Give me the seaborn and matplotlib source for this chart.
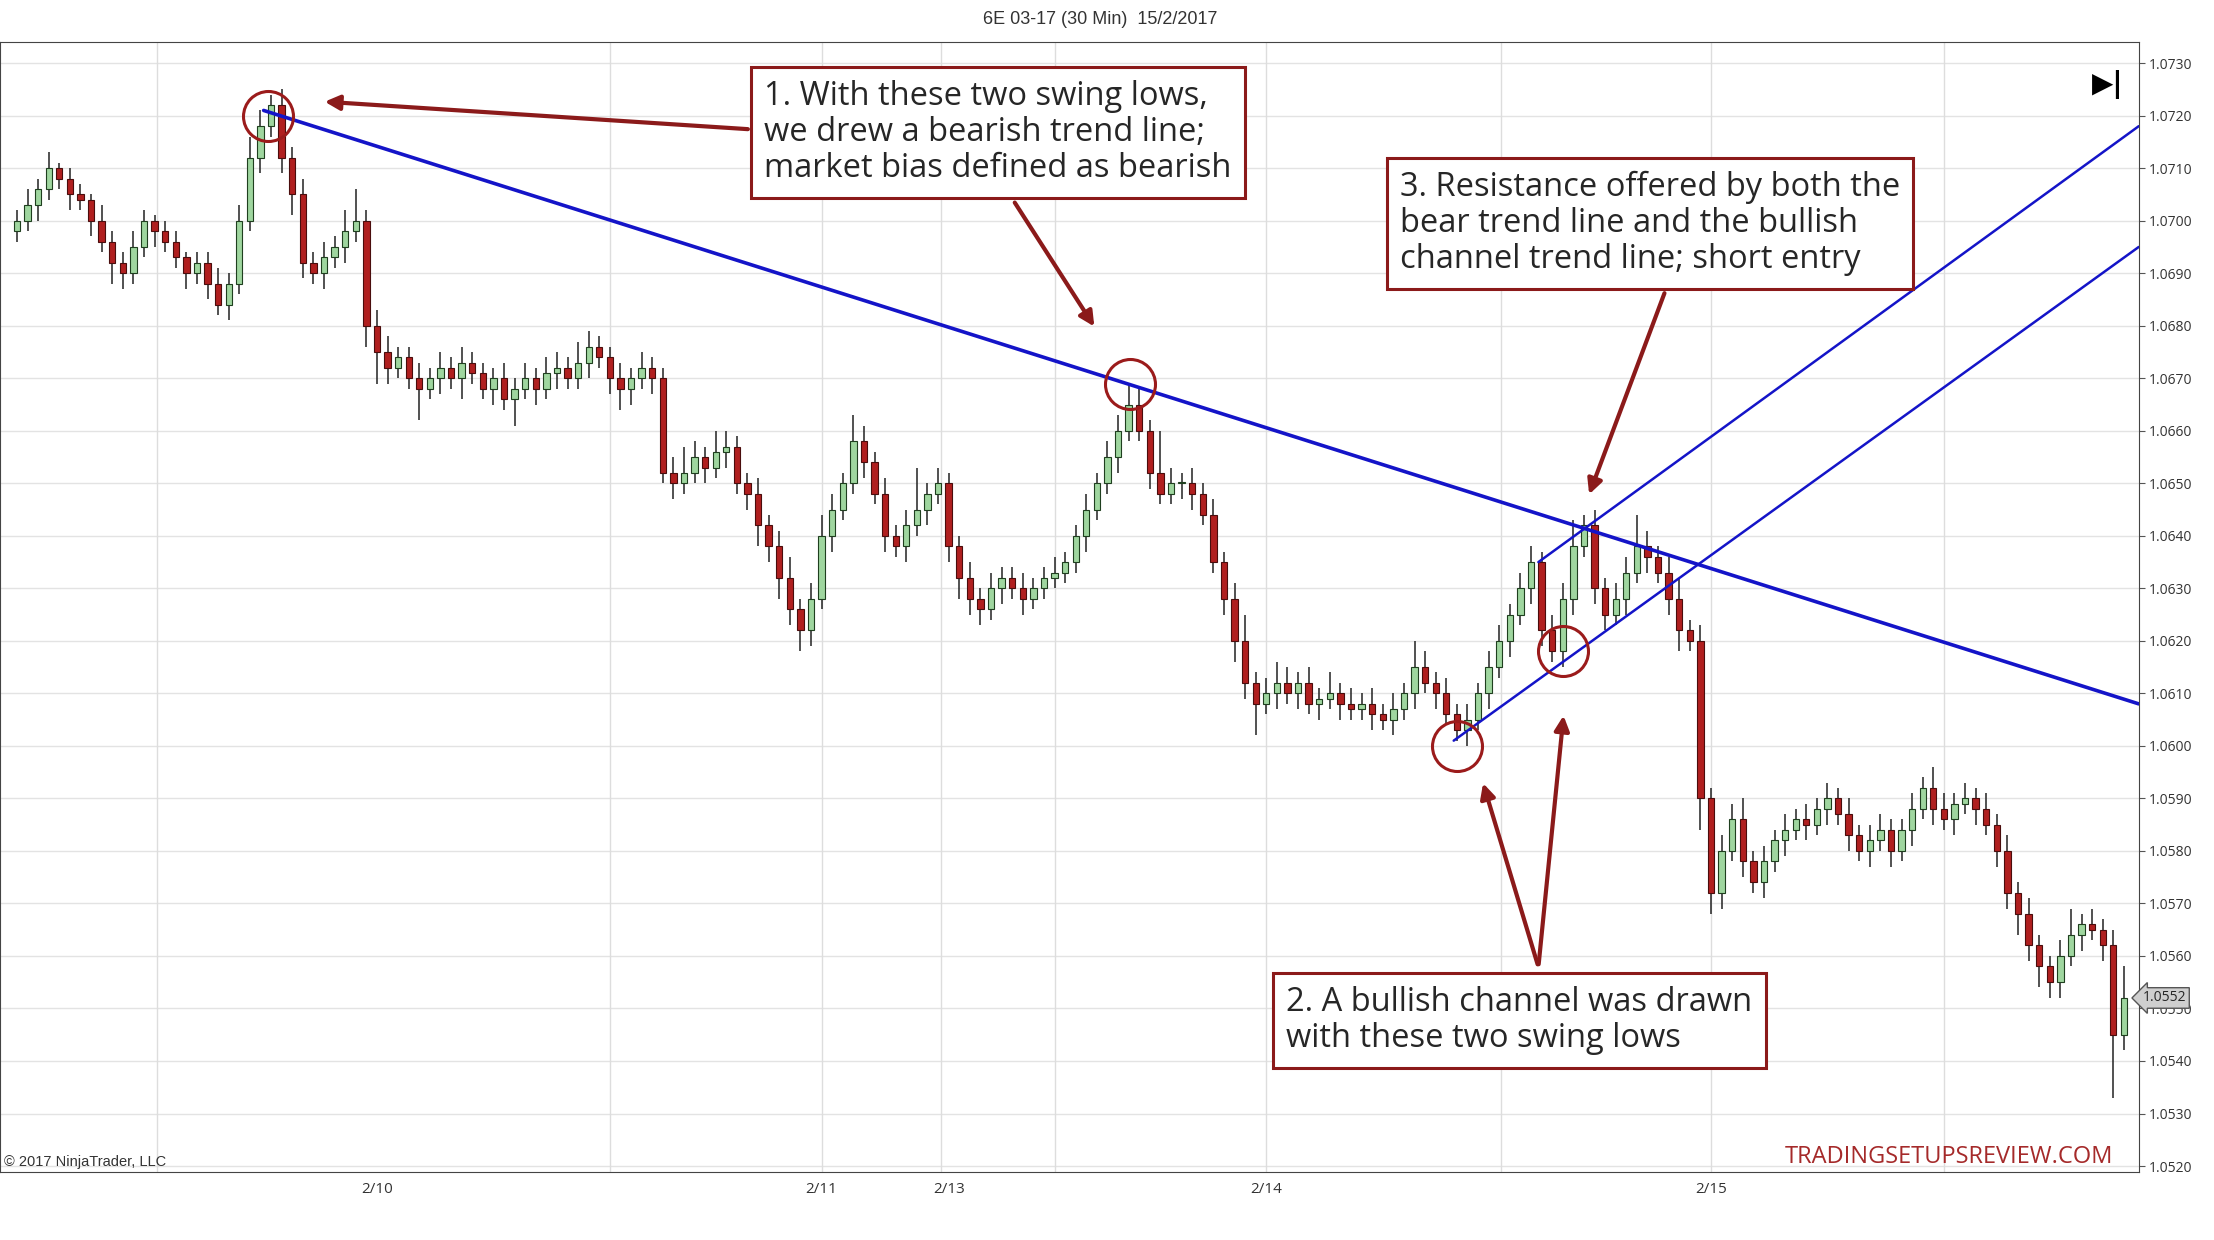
import numpy as np
import matplotlib.pyplot as plt
import seaborn as sns

# closes in pips above 1.0500, one per 30-min bar (open = previous close)
closes = [200, 203, 206, 210, 208, 205, 204, 200, 196, 192,
          190, 195, 200, 198, 196, 193, 190, 192, 188, 184,
          188, 200, 212, 218, 222, 212, 205, 192, 190, 193,
          195, 198, 200, 180, 175, 172, 174, 170, 168, 170,
          172, 170, 173, 171, 168, 170, 166, 168, 170, 168,
          171, 172, 170, 173, 176, 174, 170, 168, 170, 172,
          170, 152, 150, 152, 155, 153, 156, 157, 150, 148,
          142, 138, 132, 126, 122, 128, 140, 145, 150, 158,
          154, 148, 140, 138, 142, 145, 148, 150, 138, 132,
          128, 126, 130, 132, 130, 128, 130, 132, 133, 135,
          140, 145, 150, 155, 160, 165, 160, 152, 148, 150,
          150, 148, 144, 135, 128, 120, 112, 108, 110, 112,
          110, 112, 108, 109, 110, 108, 107, 108, 106, 105,
          107, 110, 115, 112, 110, 106, 103, 105, 110, 115,
          120, 125, 130, 135, 122, 118, 128, 138, 142, 130,
          125, 128, 133, 138, 136, 133, 128, 122, 120, 90,
          72, 80, 86, 78, 74, 78, 82, 84, 86, 85,
          88, 90, 87, 83, 80, 82, 84, 80, 84, 88,
          92, 88, 86, 89, 90, 88, 85, 80, 72, 68,
          62, 58, 55, 60, 64, 66, 65, 62, 45, 52]
first_open = 198
wick_up = [2, 3, 2, 3, 1, 2, 2, 1, 3, 2, 2, 3, 2, 1, 2, 2, 1, 2, 2, 3,
           2, 3, 4, 3, 2, 3, 2, 3, 2, 3, 2, 4, 6, 2, 3, 3, 2, 2, 3, 2,
           3, 2, 3, 2, 2, 2, 3, 2, 3, 2, 3, 3, 2, 4, 3, 2, 2, 3, 2, 3,
           2, 2, 3, 5, 3, 2, 4, 3, 2, 2, 3, 2, 3, 4, 2, 3, 4, 3, 2, 5,
           3, 2, 3, 2, 3, 8, 2, 3, 2, 2, 3, 2, 3, 2, 2, 3, 2, 2, 3, 2,
           2, 3, 2, 3, 3, 4, 3, 2, 8, 3, 2, 3, 2, 3, 2, 3, 5, 2, 3, 4,
           3, 2, 3, 2, 4, 2, 3, 2, 3, 2, 3, 2, 5, 3, 2, 3, 2, 3, 2, 3,
           3, 2, 3, 3, 2, 3, 3, 5, 2, 3, 2, 3, 3, 6, 3, 2, 3, 4, 2, 3,
           2, 3, 3, 4, 2, 3, 2, 3, 2, 3, 2, 3, 2, 3, 2, 3, 3, 2, 2, 3,
           2, 4, 3, 2, 3, 2, 3, 2, 3, 2, 3, 2, 2, 3, 5, 2, 3, 2, 3, 6]
wick_dn = [2, 2, 3, 2, 2, 3, 2, 3, 2, 4, 3, 2, 2, 3, 2, 2, 3, 2, 3, 2,
           3, 2, 2, 3, 2, 3, 4, 3, 2, 3, 2, 3, 2, 4, 6, 3, 2, 2, 6, 2,
           3, 2, 4, 2, 2, 3, 2, 5, 2, 3, 2, 3, 2, 2, 3, 2, 3, 4, 3, 2,
           3, 2, 3, 2, 2, 3, 2, 3, 2, 3, 4, 3, 4, 3, 4, 3, 2, 3, 2, 2,
           3, 2, 3, 2, 3, 2, 3, 2, 3, 4, 3, 3, 2, 3, 2, 3, 2, 2, 2, 2,
           2, 3, 2, 2, 3, 2, 2, 3, 2, 2, 3, 3, 2, 2, 3, 4, 3, 6, 2, 3,
           2, 3, 2, 3, 2, 3, 2, 2, 3, 2, 3, 2, 3, 2, 3, 2, 2, 3, 2, 3,
           2, 3, 2, 3, 3, 2, 3, 3, 2, 3, 3, 2, 3, 2, 3, 2, 3, 4, 2, 6,
           4, 3, 2, 3, 2, 3, 2, 3, 2, 3, 2, 3, 2, 3, 2, 3, 2, 3, 2, 3,
           2, 3, 2, 3, 2, 3, 2, 3, 3, 4, 3, 4, 3, 3, 2, 3, 2, 3, 12, 3]

ytick_vals = [1.0520, 1.0530, 1.0540, 1.0550, 1.0560, 1.0570, 1.0580, 1.0590, 1.0600, 1.0610, 1.0620,
              1.0630, 1.0640, 1.0650, 1.0660, 1.0670, 1.0680, 1.0690, 1.0700, 1.0710, 1.0720, 1.0730]
date_ticks = [34, 76, 88, 118, 160]
date_labels = ['2/10', '2/11', '2/13', '2/14', '2/15']
vgrid = [13.2, 56, 76, 87.3, 98, 118, 140.2, 160, 182]

# trend lines (bar index, price)
bear_line = ([23.3, 200.4], [1.0721, 1.0608])
chan_low = ([135.7, 200.4], [1.0601, 1.0695])
chan_up = ([143.7, 200.4], [1.0635, 1.0718])
circles_x = [23.7, 105.1, 136.0, 146.0]
circles_y = [1.0720, 1.0669, 1.0600, 1.0618]

sns.set_style("white")
plt.rcParams['font.family'] = ['Open Sans', 'DejaVu Sans']

fig = plt.figure(figsize=(22.14, 12.4), dpi=100)
ax = fig.add_axes([0.0, 0.055, 0.966, 0.911])

c = 1.05 + np.array(closes) / 10000
o = np.concatenate([[1.05 + first_open / 10000], c[:-1]])
hi = np.maximum(o, c) + np.array(wick_up) / 10000
lo = np.minimum(o, c) - np.array(wick_dn) / 10000
x = np.arange(len(c))
up = c >= o

for yv in ytick_vals:
    ax.axhline(yv, color='#e3e3e3', lw=1, zorder=0)
for xv in vgrid:
    ax.axvline(xv, color='#dddddd', lw=1, zorder=0)

ax.vlines(x, lo, hi, color='#222222', lw=1.1, zorder=2)
body = np.maximum(np.abs(c - o), 0.00003)
ax.bar(x[up], body[up], bottom=o[up], width=0.6, color='#9fd69f', edgecolor='#1f3f1f', lw=0.8, zorder=3)
ax.bar(x[~up], body[~up], bottom=c[~up], width=0.6, color='#b01f1f', edgecolor='#4a0d0d', lw=0.8, zorder=3)

ax.plot(*bear_line, color='#1414c8', lw=2.6, zorder=4)
ax.plot(*chan_low, color='#1414c8', lw=1.8, zorder=4)
ax.plot(*chan_up, color='#1414c8', lw=1.8, zorder=4)
ax.plot(circles_x, circles_y, 'o', ms=36, mfc='none', mec='#9b1b1b', mew=2.2, zorder=5)

ax.set_xlim(-1.6, 200.4)
ax.set_ylim(1.05189, 1.07340)
ax.yaxis.tick_right()
ax.set_yticks(ytick_vals)
ax.set_yticklabels([f'{v:.4f}' for v in ytick_vals], fontsize=10, color='#333333')
ax.set_xticks(date_ticks)
ax.set_xticklabels(date_labels, fontsize=11, color='#333333')
ax.tick_params(length=4, color='#555555')
for s in ax.spines.values():
    s.set_color('#444444')

red = '#8b1a1a'
box = dict(boxstyle='square,pad=0.4', fc='white', ec=red, lw=2.2)
tfs = 23.5
ax.text(70.6, 1.07268, "1. With these two swing lows,\nwe drew a bearish trend line;\nmarket bias defined as bearish",
        fontsize=tfs, va='top', ha='left', bbox=box, zorder=6, linespacing=1.12)
ax.text(130.6, 1.07095, "3. Resistance offered by both the\nbear trend line and the bullish\nchannel trend line; short entry",
        fontsize=tfs, va='top', ha='left', bbox=box, zorder=6, linespacing=1.12)
ax.text(119.9, 1.05542, "2. A bullish channel was drawn\nwith these two swing lows",
        fontsize=tfs, va='top', ha='left', bbox=box, zorder=6, linespacing=1.12)

arrows = [((69.3, 1.07174), (28.8, 1.07227)),
          ((94.1, 1.07039), (101.9, 1.06794)),
          ((155.7, 1.06867), (148.4, 1.06474)),
          ((143.7, 1.05579), (138.4, 1.05934)),
          ((143.7, 1.05579), (146.1, 1.06063))]
for start, end in arrows:
    ax.annotate('', xy=end, xytext=start, zorder=5,
                arrowprops=dict(arrowstyle='-|>', color=red, lw=3, mutation_scale=22))

fig.text(0.497, 0.984, "6E 03-17 (30 Min)  15/2/2017", ha='center', va='center', fontsize=13,
         family=['Liberation Sans', 'DejaVu Sans'], color='#333333')
ax.text(0.002, 0.005, "© 2017 NinjaTrader, LLC", transform=ax.transAxes, fontsize=10.5,
        family=['Liberation Sans', 'DejaVu Sans'], color='#333333')
ax.text(0.988, 0.008, "TRADINGSETUPSREVIEW.COM", transform=ax.transAxes, ha='right', fontsize=17,
        color='#a52a2a')
ax.text(0.993, 0.975, "▶|", transform=ax.transAxes, ha='right', va='top', fontsize=20,
        family='DejaVu Sans', weight='bold', color='black')
ax.text(1.002, c[-1], f"{c[-1]:.4f}", transform=ax.get_yaxis_transform(), fontsize=10, va='center',
        bbox=dict(boxstyle='larrow,pad=0.2', fc='#cfcfcf', ec='#555555'), zorder=7, clip_on=False)

fig.savefig('out.png', dpi=100, facecolor='white')
